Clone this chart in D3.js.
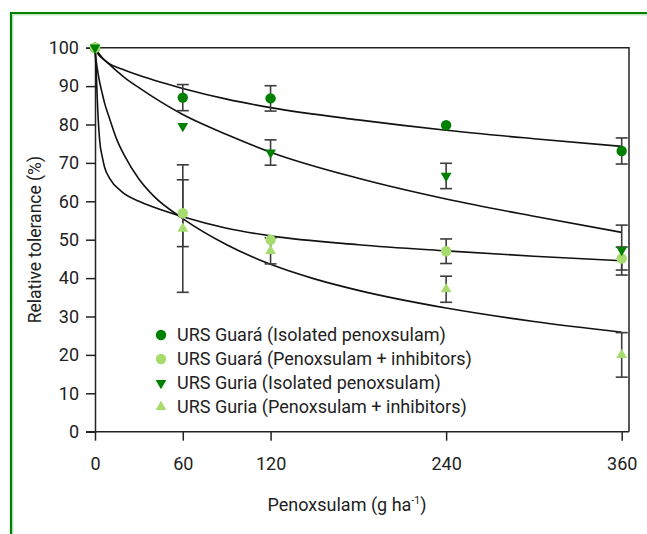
<!DOCTYPE html>
<html>
<head>
<meta charset="utf-8">
<script src="https://cdn.jsdelivr.net/npm/d3@7/dist/d3.min.js"></script>
<style>
  html, body { margin: 0; padding: 0; background: #fff; }
  svg { display: block; }
  text { font-family: Roboto, "Noto Sans", sans-serif; fill: #222; }
</style>
</head>
<body>
<svg id="chart" width="647" height="534"></svg>
<script>
// ---------- data ----------
const doses = [0, 60, 120, 240, 360];
const xTicks = [0, 60, 120, 240, 360];
const yTicks = [0, 10, 20, 30, 40, 50, 60, 70, 80, 90, 100];

const seriesNames = [
  "URS Guará (Isolated penoxsulam)",
  "URS Guará (Penoxsulam + inhibitors)",
  "URS Guria (Isolated penoxsulam)",
  "URS Guria (Penoxsulam + inhibitors)"
];

const guaraIso      = [100, 87.0, 86.8, 79.8, 73.1];
const guaraIsoErr   = [0, 3.4, 3.3, 0, 3.4];
const guaraInh      = [100, 56.9, 50.0, 47.0, 45.1];
const guaraInhErr   = [0, 8.7, 0, 3.2, 3.0];
const guriaIso      = [100, 79.6, 72.7, 66.6, 47.3];
const guriaIsoErr   = [0, 0, 3.3, 3.3, 6.5];
const guriaInh      = [100, 52.9, 47.1, 37.1, 20.0];
const guriaInhErr   = [0, 16.6, 3.4, 3.4, 5.8];

// fitted curves
const fitGuaraIsoX = [0, 2, 5, 10, 20, 30, 45, 60, 90, 120, 180, 240, 300, 360];
const fitGuaraIsoY = [100, 98.4, 97.2, 95.8, 94.2, 92.8, 91.0, 89.4, 86.6, 84.4, 81.2, 78.5, 76.3, 74.3];
const fitGuriaIsoX = [0, 2, 5, 10, 20, 30, 45, 60, 90, 120, 180, 240, 300, 360];
const fitGuriaIsoY = [100, 98.8, 97.4, 95.6, 92.3, 89.6, 85.9, 82.6, 77.4, 72.8, 66.0, 60.6, 56.1, 51.9];
const fitGuaraInhX = [0, 0.5, 0.9, 1.8, 3.2, 5, 6.6, 10, 18, 30, 40.8, 60, 90, 120, 180, 240, 300, 360];
const fitGuaraInhY = [100, 96.5, 93.1, 84.4, 75.8, 71.5, 68.8, 66.0, 62.6, 60.0, 58.4, 56.0, 53.0, 51.0, 48.7, 47.1, 45.7, 44.5];
const fitGuriaInhX = [0, 0.5, 1, 2, 3.2, 5, 6.6, 10, 15, 20, 30, 40, 60, 90, 120, 150, 180, 240, 300, 360];
const fitGuriaInhY = [100, 97.5, 96.0, 93.5, 91.0, 88.0, 85.5, 81.5, 76.0, 72.0, 65.8, 61.4, 55.5, 48.7, 43.6, 39.8, 36.8, 32.2, 28.7, 25.9];

// ---------- styles ----------
const darkGreen = "#008000";
const lightGreen = "#a6dc6e";
const errColor = "#3c3c3c";

const svg = d3.select("#chart");

// page border
svg.append("path").attr("d", "M11,534 V13 H647")
  .attr("fill", "none").attr("stroke", darkGreen).attr("stroke-width", 2.2);
svg.append("path").attr("d", "M12.8,534 V14.8 H647")
  .attr("fill", "none").attr("stroke", "#8ccf8c").attr("stroke-width", 0.8);

const x = d3.scaleLinear().domain([0, 360]).range([95, 621.7]);
const y = d3.scaleLinear().domain([0, 100]).range([431.7, 47.7]);

// frame (top & right)
svg.append("path")
  .attr("d", `M${x(0)},${y(100)} H629 V${y(0)}`)
  .attr("fill", "none").attr("stroke", "#222").attr("stroke-width", 1.5);

// axes
const yAxis = d3.axisLeft(y).tickValues(yTicks).tickSize(9).tickPadding(7).tickFormat(d3.format("d"));
const gy = svg.append("g").attr("transform", `translate(${x(0)},0)`).call(yAxis);
gy.select(".domain").attr("stroke", "#222").attr("stroke-width", 1.5);
gy.selectAll(".tick line").attr("stroke", "#222").attr("stroke-width", 1.5);
gy.selectAll(".tick text").attr("font-size", 18).attr("fill", "#222")
  .style("font-family", "Roboto, sans-serif");

const xAxis = d3.axisBottom(x).tickValues(xTicks).tickSize(9).tickPadding(17).tickFormat(d3.format("d"));
const gx = svg.append("g").attr("transform", `translate(0,${y(0)})`).call(xAxis);
gx.select(".domain").remove();
gx.append("line").attr("x1", 86).attr("x2", 629).attr("y1", 0).attr("y2", 0)
  .attr("stroke", "#222").attr("stroke-width", 1.5);
gx.selectAll(".tick line").attr("stroke", "#222").attr("stroke-width", 1.5);
gx.selectAll(".tick text").attr("font-size", 18).attr("fill", "#222")
  .style("font-family", "Roboto, sans-serif");

// axis titles
svg.append("text")
  .attr("transform", `translate(41,${y(50)}) rotate(-90)`)
  .attr("text-anchor", "middle").attr("font-size", 17.5)
  .text("Relative tolerance (%)");

const xt = svg.append("text").attr("x", 347).attr("y", 511)
  .attr("text-anchor", "middle").attr("font-size", 18);
xt.append("tspan").text("Penoxsulam (g ha");
xt.append("tspan").attr("font-size", 10.5).attr("dy", -7).text("-1");
xt.append("tspan").attr("dy", 7).text(")");

// curves
const line = d3.line().x(d => x(d[0])).y(d => y(d[1])).curve(d3.curveMonotoneX);
const fits = [
  [fitGuaraIsoX, fitGuaraIsoY],
  [fitGuriaIsoX, fitGuriaIsoY],
  [fitGuaraInhX, fitGuaraInhY],
  [fitGuriaInhX, fitGuriaInhY]
];
fits.forEach(([xs, ys]) => {
  svg.append("path").datum(xs.map((v, i) => [v, ys[i]]))
    .attr("d", line).attr("fill", "none")
    .attr("stroke", "#111").attr("stroke-width", 1.6);
});

// series definitions
const series = [
  { name: seriesNames[0], vals: guaraIso, err: guaraIsoErr, color: darkGreen, shape: "circle" },
  { name: seriesNames[1], vals: guaraInh, err: guaraInhErr, color: lightGreen, shape: "circle" },
  { name: seriesNames[2], vals: guriaIso, err: guriaIsoErr, color: darkGreen, shape: "down" },
  { name: seriesNames[3], vals: guriaInh, err: guriaInhErr, color: lightGreen, shape: "up" }
];

// error bars
series.forEach(s => {
  const g = svg.append("g").attr("stroke", errColor).attr("stroke-width", 1.6);
  doses.forEach((dose, i) => {
    const e = s.err[i];
    if (!e) return;
    const cx = x(dose), y1 = y(s.vals[i] + e), y2 = y(s.vals[i] - e);
    g.append("line").attr("x1", cx).attr("x2", cx).attr("y1", y1).attr("y2", y2);
    g.append("line").attr("x1", cx - 6).attr("x2", cx + 6).attr("y1", y1).attr("y2", y1);
    g.append("line").attr("x1", cx - 6).attr("x2", cx + 6).attr("y1", y2).attr("y2", y2);
  });
});

function drawMarker(g, shape, color, cx, cy) {
  if (shape === "circle") {
    g.append("circle").attr("cx", cx).attr("cy", cy).attr("r", 5.2).attr("fill", color);
  } else {
    const sym = d3.symbol().type(d3.symbolTriangle).size(50);
    g.append("path").attr("d", sym())
      .attr("transform", `translate(${cx},${cy})${shape === "down" ? " rotate(180)" : ""}`)
      .attr("fill", color);
  }
}

// markers (draw order so that the dark down-triangle sits on top at the origin)
const drawOrder = [3, 0, 1, 2];
drawOrder.forEach(k => {
  const s = series[k];
  const g = svg.append("g");
  doses.forEach((dose, i) => drawMarker(g, s.shape, s.color, x(dose), y(s.vals[i])));
});

// legend
const legend = svg.append("g");
series.forEach((s, i) => {
  const ly = 335 + i * 24;
  drawMarker(legend, s.shape, s.color, 161, ly);
  legend.append("text").attr("x", 177).attr("y", ly + 6.3)
    .attr("font-size", 18).text(s.name);
});
</script>
</body>
</html>
